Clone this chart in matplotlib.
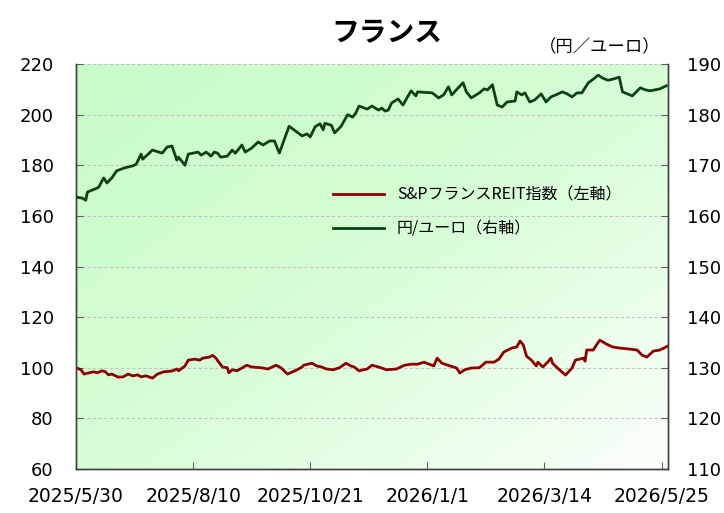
"""
France REIT vs JPY/EUR chart (two y axes, gradient plot background).
"""

import numpy as np
import pandas as pd
import matplotlib
matplotlib.use("Agg")
import matplotlib.pyplot as plt
from matplotlib.colors import LinearSegmentedColormap

plt.rcParams.update({
    "font.family": ["DejaVu Sans", "Noto Sans CJK JP"],
    "axes.unicode_minus": False,
})

JP_FONT = ["Noto Sans CJK JP", "DejaVu Sans"]

# S&P France REIT index (left axis)
REIT_DATES = [
    "2025-05-30", "2025-06-02", "2025-06-04", "2025-06-07", "2025-06-10", "2025-06-12",
    "2025-06-15", "2025-06-17", "2025-06-19", "2025-06-21", "2025-06-25", "2025-06-28",
    "2025-07-01", "2025-07-04", "2025-07-07", "2025-07-09", "2025-07-12", "2025-07-16",
    "2025-07-19", "2025-07-23", "2025-07-28", "2025-07-31", "2025-08-01", "2025-08-05",
    "2025-08-07", "2025-08-11", "2025-08-14", "2025-08-16", "2025-08-20", "2025-08-22",
    "2025-08-24", "2025-08-28", "2025-08-31", "2025-09-01", "2025-09-03", "2025-09-06",
    "2025-09-12", "2025-09-15", "2025-09-21", "2025-09-25", "2025-09-30", "2025-10-03",
    "2025-10-07", "2025-10-13", "2025-10-16", "2025-10-17", "2025-10-22", "2025-10-25",
    "2025-10-28", "2025-10-31", "2025-11-04", "2025-11-08", "2025-11-12", "2025-11-15",
    "2025-11-17", "2025-11-20", "2025-11-25", "2025-11-28", "2025-12-02", "2025-12-07",
    "2025-12-13", "2025-12-18", "2025-12-22", "2025-12-26", "2025-12-30", "2026-01-05",
    "2026-01-07", "2026-01-10", "2026-01-15", "2026-01-19", "2026-01-21", "2026-01-24",
    "2026-01-28", "2026-02-02", "2026-02-06", "2026-02-11", "2026-02-14", "2026-02-17",
    "2026-02-22", "2026-02-25", "2026-02-27", "2026-03-01", "2026-03-03", "2026-03-06",
    "2026-03-09", "2026-03-10", "2026-03-13", "2026-03-16", "2026-03-18", "2026-03-19",
    "2026-03-22", "2026-03-27", "2026-03-31", "2026-04-02", "2026-04-07", "2026-04-08",
    "2026-04-09", "2026-04-13", "2026-04-15", "2026-04-17", "2026-04-21", "2026-04-25",
    "2026-04-29", "2026-05-05", "2026-05-10", "2026-05-13", "2026-05-16", "2026-05-20",
    "2026-05-24", "2026-05-29",
]
REIT_VALUES = [
    100.0, 99.2, 97.5, 98.0, 98.4, 98.0,
    98.8, 98.4, 97.2, 97.5, 96.3, 96.4,
    97.5, 96.8, 97.2, 96.4, 96.8, 95.9,
    97.5, 98.4, 98.7, 99.5, 98.8, 100.7,
    103.0, 103.4, 103.0, 103.8, 104.2, 104.9,
    103.8, 100.3, 100.0, 98.0, 99.2, 98.8,
    101.0, 100.3, 100.0, 99.5, 101.0, 100.0,
    97.5, 99.2, 100.3, 101.0, 101.8, 100.7,
    100.3, 99.5, 99.2, 100.0, 101.8, 100.7,
    100.3, 98.8, 99.5, 101.0, 100.3, 99.2,
    99.5, 101.0, 101.4, 101.4, 102.2, 100.7,
    103.8, 101.8, 100.7, 99.9, 97.9, 99.2,
    99.9, 100.0, 102.2, 102.2, 103.4, 106.2,
    107.8, 108.2, 110.6, 109.0, 104.6, 103.0,
    100.7, 102.2, 100.3, 102.2, 103.8, 101.8,
    99.9, 97.1, 99.9, 103.0, 103.8, 102.6,
    107.0, 107.0, 109.0, 110.9, 109.4, 108.2,
    107.8, 107.4, 107.0, 105.0, 104.2, 106.6,
    107.0, 108.6,
]

# JPY per EUR (right axis)
FX_DATES = [
    "2025-05-30", "2025-06-03", "2025-06-05", "2025-06-06", "2025-06-12", "2025-06-13",
    "2025-06-16", "2025-06-18", "2025-06-21", "2025-06-24", "2025-06-29", "2025-07-04",
    "2025-07-06", "2025-07-09", "2025-07-10", "2025-07-16", "2025-07-20", "2025-07-22",
    "2025-07-25", "2025-07-28", "2025-07-31", "2025-08-01", "2025-08-05", "2025-08-07",
    "2025-08-13", "2025-08-15", "2025-08-18", "2025-08-21", "2025-08-23", "2025-08-25",
    "2025-08-27", "2025-08-31", "2025-09-03", "2025-09-05", "2025-09-09", "2025-09-11",
    "2025-09-15", "2025-09-19", "2025-09-22", "2025-09-26", "2025-09-29", "2025-10-02",
    "2025-10-08", "2025-10-11", "2025-10-16", "2025-10-19", "2025-10-21", "2025-10-24",
    "2025-10-27", "2025-10-29", "2025-10-30", "2025-11-03", "2025-11-05", "2025-11-09",
    "2025-11-13", "2025-11-16", "2025-11-18", "2025-11-20", "2025-11-25", "2025-11-28",
    "2025-12-02", "2025-12-04", "2025-12-06", "2025-12-08", "2025-12-10", "2025-12-14",
    "2025-12-17", "2025-12-22", "2025-12-25", "2025-12-26", "2026-01-04", "2026-01-08",
    "2026-01-11", "2026-01-14", "2026-01-16", "2026-01-20", "2026-01-23", "2026-01-25",
    "2026-01-28", "2026-01-31", "2026-02-02", "2026-02-05", "2026-02-07", "2026-02-10",
    "2026-02-13", "2026-02-16", "2026-02-19", "2026-02-24", "2026-02-25", "2026-02-28",
    "2026-03-02", "2026-03-05", "2026-03-08", "2026-03-12", "2026-03-15", "2026-03-18",
    "2026-03-21", "2026-03-25", "2026-03-28", "2026-03-31", "2026-04-03", "2026-04-06",
    "2026-04-10", "2026-04-13", "2026-04-16", "2026-04-19", "2026-04-22", "2026-04-25",
    "2026-04-29", "2026-05-01", "2026-05-07", "2026-05-12", "2026-05-15", "2026-05-18",
    "2026-05-24", "2026-05-28",
]
FX_VALUES = [
    163.7, 163.5, 163.1, 164.7, 165.5, 165.7,
    167.5, 166.5, 167.5, 168.9, 169.5, 169.9,
    170.2, 172.2, 171.2, 173.0, 172.6, 172.4,
    173.6, 173.8, 171.0, 171.6, 170.0, 172.2,
    172.6, 172.0, 172.6, 171.8, 172.6, 172.4,
    171.6, 171.8, 173.0, 172.4, 174.0, 172.6,
    173.4, 174.6, 174.0, 174.8, 174.8, 172.4,
    177.7, 177.0, 175.8, 176.2, 175.6, 177.6,
    178.2, 177.0, 178.3, 177.9, 176.4, 177.7,
    180.0, 179.5, 180.3, 181.7, 181.1, 181.7,
    180.9, 181.3, 180.7, 180.9, 182.3, 183.1,
    181.9, 184.7, 183.7, 184.5, 184.3, 183.3,
    183.9, 185.5, 183.9, 185.3, 186.3, 184.5,
    183.3, 183.9, 184.3, 185.1, 184.9, 185.9,
    181.9, 181.5, 182.5, 182.7, 184.5, 183.9,
    184.3, 182.5, 182.9, 184.1, 182.5, 183.5,
    183.9, 184.5, 184.1, 183.5, 184.3, 184.3,
    186.3, 187.0, 187.8, 187.2, 186.8, 187.0,
    187.4, 184.5, 183.7, 185.3, 184.9, 184.7,
    185.1, 185.7,
]

X_TICKS = ["2025-05-30", "2025-08-10", "2025-10-21", "2026-01-01", "2026-03-14", "2026-05-25"]
X_TICK_LABELS = ["2025/5/30", "2025/8/10", "2025/10/21", "2026/1/1", "2026/3/14", "2026/5/25"]
X_RANGE = ["2025-05-30", "2026-05-29"]

LEFT_TICKS = [60, 80, 100, 120, 140, 160, 180, 200, 220]
RIGHT_TICKS = [110, 120, 130, 140, 150, 160, 170, 180, 190]

RED = "#8b0000"
GREEN = "#0a4214"

fig = plt.figure(figsize=(7.24, 5.13), dpi=100)
ax = fig.add_axes([0.105, 0.0858, 0.8177, 0.7894])
ax2 = ax.twinx()

# diagonal gradient: light green (top-left) -> near white (bottom-right)
gx, gy = np.meshgrid(np.linspace(0, 1, 200), np.linspace(0, 1, 200))
grad = (gx + gy) / 2.0
cmap = LinearSegmentedColormap.from_list("bg", ["#c8fbc8", "#d6fdd6", "#fbfffb"])
ax.imshow(grad, extent=[0, 1, 0, 1], transform=ax.transAxes, cmap=cmap,
          aspect="auto", origin="upper", zorder=0, interpolation="bicubic")

reit_x = pd.to_datetime(REIT_DATES)
fx_x = pd.to_datetime(FX_DATES)
l1, = ax.plot(reit_x, REIT_VALUES, color=RED, lw=2.0, zorder=3,
              label="S&PフランスREIT指数（左軸）")
l2, = ax2.plot(fx_x, FX_VALUES, color=GREEN, lw=2.0, zorder=3,
               label="円/ユーロ（右軸）")

ax.set_xlim(pd.Timestamp(X_RANGE[0]), pd.Timestamp(X_RANGE[1]))
ax.set_ylim(60, 220)
ax2.set_ylim(110, 190)
ax.set_yticks(LEFT_TICKS)
ax2.set_yticks(RIGHT_TICKS)
ax.set_xticks(pd.to_datetime(X_TICKS))
ax.set_xticklabels(X_TICK_LABELS)

ax.grid(axis="y", color="#c4c4c4", linestyle=(0, (3, 2)), linewidth=0.8, zorder=1)
ax.set_axisbelow(False)

for a in (ax, ax2):
    a.spines["top"].set_visible(False)
    for s in ("left", "right", "bottom"):
        a.spines[s].set_color("#404040")
        a.spines[s].set_linewidth(1.0)
ax.tick_params(axis="y", direction="in", length=5, color="#606060", pad=16,
               labelsize=13)
ax.tick_params(axis="x", direction="in", length=5, color="#606060", pad=13,
               labelsize=13.5)
ax2.tick_params(axis="y", direction="in", length=5, color="#606060", pad=14,
                labelsize=13)

leg = ax2.legend(handles=[l1, l2], loc="center left", bbox_to_anchor=(0.41, 0.635),
                 frameon=False, handlelength=3.2, labelspacing=1.05,
                 prop={"family": JP_FONT, "size": 11.5})

fig.text(0.535, 0.935, "フランス", ha="center", va="center", fontsize=20,
         fontweight="bold", family=JP_FONT)
fig.text(0.913, 0.907, "（円／ユーロ）", ha="right", va="center", fontsize=12.5,
         family=JP_FONT)

fig.savefig("out.png", dpi=100)
